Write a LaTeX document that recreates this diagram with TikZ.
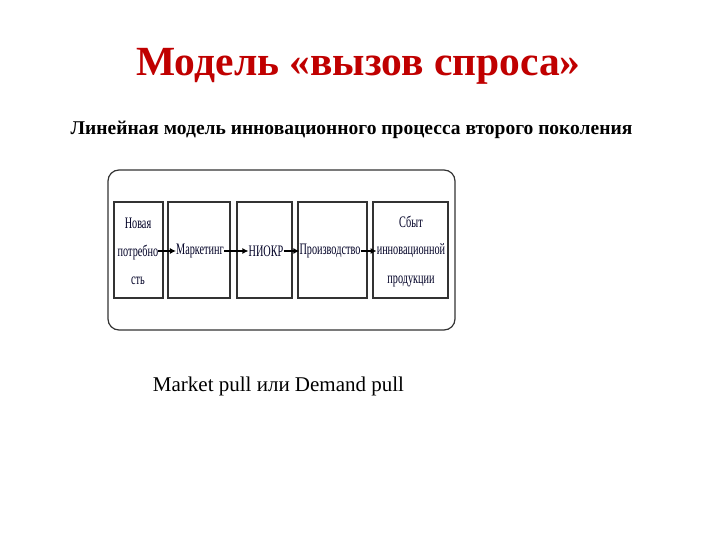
\documentclass[tikz,border=0pt]{standalone}
\usepackage{fontspec}
\setmainfont{Liberation Serif}
\newfontfamily\narrowfont[FakeStretch=0.64]{Liberation Serif}
\usetikzlibrary{arrows.meta}
\definecolor{titlered}{HTML}{C00000}
\begin{document}
\begin{tikzpicture}[x=1pt,y=-1pt,
  titletext/.style={font=\fontsize{41.5}{46}\selectfont\bfseries, text=titlered, inner sep=0},
  subtext/.style={font=\fontsize{19.5}{22}\selectfont\bfseries, inner sep=0},
  frame/.style={draw=black!80, line width=1.2pt, rounded corners=11pt},
  stagebox/.style={draw=black!80, line width=1.5pt, inner sep=0},
  stagetext/.style={font=\narrowfont\fontsize{16}{28}\selectfont, text=black!85!blue, align=center, inner sep=0},
  flow/.style={line width=1.4pt, -{Latex[length=6pt,width=6pt]}}]
\useasboundingbox (0,0) rectangle (720,540);
\fill[white] (0,0) rectangle (720,540);
\node[titletext] (title) at (358.5,66) {Модель «вызов спроса»};
\node[subtext] (sub) at (351.5,130) {Линейная модель инновационного процесса второго поколения};
\node[frame, minimum width=347pt, minimum height=160pt] (outer) at (281.5,250) {};
\node[stagebox, minimum width=49pt, minimum height=96pt] (b1) at (138.5,250) {};
\node[stagebox, minimum width=62pt, minimum height=96pt] (b2) at (199,250) {};
\node[stagebox, minimum width=55pt, minimum height=96pt] (b3) at (264.5,250) {};
\node[stagebox, minimum width=69pt, minimum height=96pt] (b4) at (332.5,250) {};
\node[stagebox, minimum width=75pt, minimum height=96pt] (b5) at (410.5,250) {};
\node[stagetext] (t1) at (138,251) {Новая\\потребно\\сть};
\node[stagetext] (t2) at (200,251) {Маркетинг};
\node[stagetext] (t3) at (266,251) {НИОКР};
\node[stagetext] (t4) at (330,251) {Производство};
\node[stagetext] (t5) at (411,251) {Сбыт\\инновационной\\продукции};
\draw[flow] (t1.east) -- (t2.west);
\draw[flow] (t2.east) -- (t3.west);
\draw[flow] (t3.east) -- (t4.west);
\draw[flow] (t4.east) -- (t5.west);
\node[font=\fontsize{21}{24}\selectfont, inner sep=0] (pull) at (278.5,386) {Market pull или Demand pull};
\end{tikzpicture}
\end{document}
